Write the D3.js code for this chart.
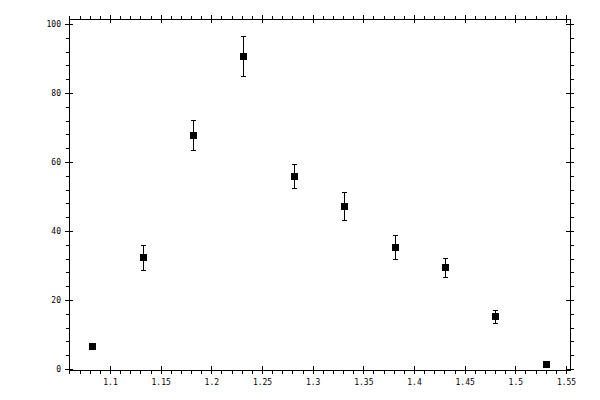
<!DOCTYPE html>
<html>
<head>
<meta charset="utf-8">
<script src="https://cdn.jsdelivr.net/npm/d3@7"></script>
<style>
  html, body { margin: 0; padding: 0; background: #fff; }
  svg { display: block; }
  .tick text { font-family: "DejaVu Sans Mono", monospace; font-size: 8px; fill: #000; }
</style>
</head>
<body>
<script>
// ---- data ----
const xValues = [1.0825, 1.133, 1.182, 1.2315, 1.282, 1.331, 1.3815, 1.431, 1.480, 1.5305];
const yValues = [6.6, 32.4, 67.8, 90.6, 55.9, 47.2, 35.3, 29.5, 15.3, 1.4];
const yErrors = [0.8, 3.6, 4.3, 5.8, 3.5, 4.0, 3.45, 2.8, 1.9, 0.5];
const xMajorTicks = [1.1, 1.15, 1.2, 1.25, 1.3, 1.35, 1.4, 1.45, 1.5, 1.55];
const xTickLabels = ["1.1", "1.15", "1.2", "1.25", "1.3", "1.35", "1.4", "1.45", "1.5", "1.55"];
const yMajorTicks = [0, 20, 40, 60, 80, 100];
const yTickLabels = ["0", "20", "40", "60", "80", "100"];

// ---- layout ----
const W = 600, H = 400;
const frame = { left: 69.5, right: 570.5, top: 19.5, bottom: 370.5 };

const x = d3.scaleLinear().domain([1.1, 1.55]).range([110, 566]);
const y = d3.scaleLinear().domain([0, 100]).range([369, 24]);

const xMinorTicks = d3.range(106, 156, 1).map(v => v / 100);
const yMinorTicks = d3.range(0, 101, 4);

const svg = d3.select("body").append("svg")
  .attr("width", W).attr("height", H)
  .attr("shape-rendering", "crispEdges");

function styleAxis(g) {
  g.select(".domain").remove();
  g.selectAll("line").attr("stroke", "#000").attr("stroke-width", 1);
}

// bottom axis
const bMinor = svg.append("g").attr("transform", `translate(0,${frame.bottom - 0.5})`)
  .call(d3.axisBottom(x).tickValues(xMinorTicks).tickSize(3.5).tickFormat(""));
styleAxis(bMinor);
const bMajor = svg.append("g").attr("transform", `translate(0,${frame.bottom - 0.5})`)
  .call(d3.axisBottom(x).tickValues(xMajorTicks).tickSize(4).tickPadding(5)
    .tickFormat((d, i) => xTickLabels[i]));
styleAxis(bMajor);
bMajor.selectAll(".tick line").attr("y1", -4);

// top axis
const tMinor = svg.append("g").attr("transform", `translate(0,${frame.top - 0.5})`)
  .call(d3.axisTop(x).tickValues(xMinorTicks).tickSize(3.5).tickFormat(""));
styleAxis(tMinor);
const tMajor = svg.append("g").attr("transform", `translate(0,${frame.top - 0.5})`)
  .call(d3.axisTop(x).tickValues(xMajorTicks).tickSize(4).tickFormat(""));
styleAxis(tMajor);
tMajor.selectAll(".tick line").attr("y1", 4);

// left axis
const lMinor = svg.append("g").attr("transform", `translate(${frame.left - 0.5},0)`)
  .call(d3.axisLeft(y).tickValues(yMinorTicks).tickSize(3.5).tickFormat(""));
styleAxis(lMinor);
const lMajor = svg.append("g").attr("transform", `translate(${frame.left - 0.5},0)`)
  .call(d3.axisLeft(y).tickValues(yMajorTicks).tickSize(4).tickPadding(4)
    .tickFormat((d, i) => yTickLabels[i]));
styleAxis(lMajor);
lMajor.selectAll(".tick line").attr("x1", 4);

// right axis
const rMinor = svg.append("g").attr("transform", `translate(${frame.right - 0.5},0)`)
  .call(d3.axisRight(y).tickValues(yMinorTicks).tickSize(3.5).tickFormat(""));
styleAxis(rMinor);
const rMajor = svg.append("g").attr("transform", `translate(${frame.right - 0.5},0)`)
  .call(d3.axisRight(y).tickValues(yMajorTicks).tickSize(4).tickFormat(""));
styleAxis(rMajor);
rMajor.selectAll(".tick line").attr("x1", -4);

// frame
svg.append("rect")
  .attr("x", frame.left).attr("y", frame.top)
  .attr("width", frame.right - frame.left).attr("height", frame.bottom - frame.top)
  .attr("fill", "none").attr("stroke", "#000").attr("stroke-width", 1);

// data
const data = xValues.map((xv, i) => ({ x: xv, y: yValues[i], e: yErrors[i] }));
const cx = d => Math.round(x(d.x) - 0.5) + 0.5;
const cy = d => Math.round(y(d.y) - 0.5) + 0.5;

const pts = svg.append("g");
pts.selectAll("line.err").data(data).join("line")
  .attr("class", "err")
  .attr("x1", cx).attr("x2", cx)
  .attr("y1", d => Math.round(y(d.y + d.e)) + 0.5)
  .attr("y2", d => Math.round(y(d.y - d.e)) + 0.5)
  .attr("stroke", "#000");
pts.selectAll("line.capT").data(data).join("line")
  .attr("class", "capT")
  .attr("x1", d => cx(d) - 2.5).attr("x2", d => cx(d) + 2.5)
  .attr("y1", d => Math.round(y(d.y + d.e)) + 0.5)
  .attr("y2", d => Math.round(y(d.y + d.e)) + 0.5)
  .attr("stroke", "#000");
pts.selectAll("line.capB").data(data).join("line")
  .attr("class", "capB")
  .attr("x1", d => cx(d) - 2.5).attr("x2", d => cx(d) + 2.5)
  .attr("y1", d => Math.round(y(d.y - d.e)) + 0.5)
  .attr("y2", d => Math.round(y(d.y - d.e)) + 0.5)
  .attr("stroke", "#000");
pts.selectAll("rect").data(data).join("rect")
  .attr("x", d => cx(d) - 3.5).attr("y", d => cy(d) - 3.5)
  .attr("width", 7).attr("height", 7)
  .attr("fill", "#000");
</script>
</body>
</html>
